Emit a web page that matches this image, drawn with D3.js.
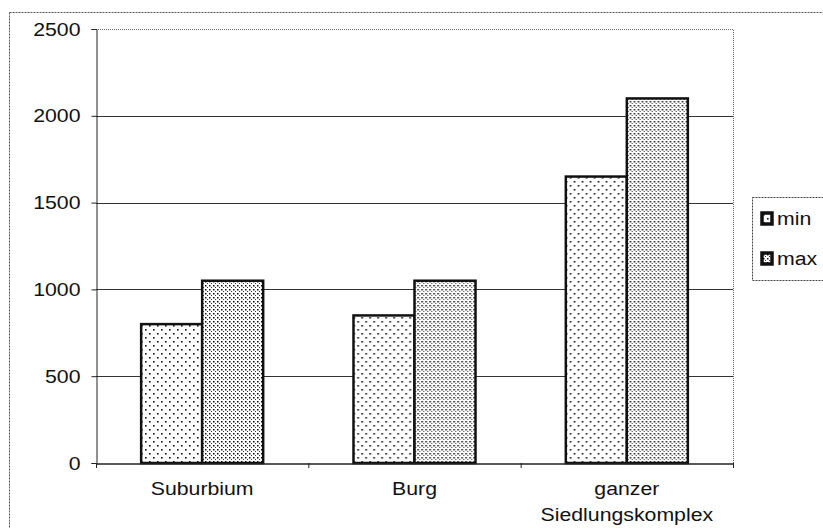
<!DOCTYPE html>
<html>
<head>
<meta charset="utf-8">
<script src="https://cdn.jsdelivr.net/npm/d3@7"></script>
<style>
  body { margin: 0; background: #fff; }
  text { font-family: "Liberation Sans", Arial, sans-serif; fill: #111; }
</style>
</head>
<body>
<svg id="chart" width="823" height="528"></svg>
<script>
// chart values
const categories = ["Suburbium", "Burg", "ganzer Siedlungskomplex"];
const seriesNames = ["min", "max"];
const minValues = [800, 850, 1650];
const maxValues = [1050, 1050, 2100];
const yTicks = [0, 500, 1000, 1500, 2000, 2500];

const svg = d3.select("#chart");
const plot = { left: 96, top: 29, right: 733, bottom: 463 };
const stretch = 1.12; // scanned text is a bit wider than it is tall

// widen a text horizontally around its own x position
function widen(sel) {
  sel.each(function () {
    const t = d3.select(this);
    const x = +t.attr("x") || 0;
    const y = +t.attr("y") || 0;
    t.attr("x", 0).attr("y", 0)
      .attr("transform", `translate(${x},${y}) scale(${stretch},1)`);
  });
}

// dot patterns for the two series
const defs = svg.append("defs");
const pMin = defs.append("pattern").attr("id", "pat-min")
  .attr("patternUnits", "userSpaceOnUse").attr("width", 8).attr("height", 8);
pMin.append("rect").attr("width", 8).attr("height", 8).attr("fill", "#fff");
pMin.append("rect").attr("x", 1).attr("y", 1).attr("width", 1.6).attr("height", 1.6).attr("fill", "#111");
pMin.append("rect").attr("x", 5).attr("y", 5).attr("width", 1.6).attr("height", 1.6).attr("fill", "#111");

const pMax = defs.append("pattern").attr("id", "pat-max")
  .attr("patternUnits", "userSpaceOnUse").attr("width", 4).attr("height", 4);
pMax.append("rect").attr("width", 4).attr("height", 4).attr("fill", "#fff");
pMax.append("rect").attr("x", 1).attr("y", 1).attr("width", 1.5).attr("height", 1.5).attr("fill", "#111");
pMax.append("rect").attr("x", 3).attr("y", 3).attr("width", 1.2).attr("height", 1.2).attr("fill", "#333");

// outer frame
svg.append("rect").attr("x", 9.5).attr("y", 12.5).attr("width", 830).attr("height", 530)
  .attr("fill", "none").attr("stroke", "#555").attr("stroke-width", 1).attr("stroke-dasharray", "2,1");

const x0 = d3.scaleBand().domain(categories).range([plot.left, plot.right]).paddingInner(0).paddingOuter(0);
const x1 = d3.scaleBand().domain(seriesNames).range([0, x0.bandwidth()]).paddingInner(0).paddingOuter(0.74);
const y = d3.scaleLinear().domain([0, 2500]).range([plot.bottom, plot.top]);

// plot area border (top and right, dotted)
svg.append("path")
  .attr("d", `M${plot.left},${plot.top + 0.5}H${plot.right + 0.5}V${plot.bottom}`)
  .attr("fill", "none").attr("stroke", "#666").attr("stroke-dasharray", "1,1");

// gridlines
svg.append("g").selectAll("line").data(yTicks.filter(d => d > 0 && d < 2500)).join("line")
  .attr("x1", plot.left).attr("x2", plot.right)
  .attr("y1", d => Math.round(y(d)) + 0.5).attr("y2", d => Math.round(y(d)) + 0.5)
  .attr("stroke", "#333").attr("stroke-width", 1);

// y axis
const yAxis = svg.append("g").attr("transform", `translate(${plot.left + 0.5},0)`)
  .call(d3.axisLeft(y).tickValues(yTicks).tickSize(5).tickPadding(11).tickFormat(d3.format("d")));
yAxis.attr("font-family", null).attr("font-size", null);
yAxis.select(".domain").attr("stroke", "#222");
yAxis.selectAll(".tick line").attr("stroke", "#222");
yAxis.selectAll("text").attr("font-size", 19).attr("fill", "#111").call(widen);

// bars
const rows = categories.map((c, i) => ({ cat: c, vals: [minValues[i], maxValues[i]] }));
const groups = svg.append("g").selectAll("g").data(rows).join("g")
  .attr("transform", d => `translate(${x0(d.cat)},0)`);
groups.selectAll("rect").data(d => d.vals.map((v, j) => ({ name: seriesNames[j], v }))).join("rect")
  .attr("x", d => x1(d.name))
  .attr("y", d => y(d.v))
  .attr("width", x1.bandwidth())
  .attr("height", d => y(0) - y(d.v))
  .attr("fill", d => `url(#pat-${d.name})`)
  .attr("stroke", "#111").attr("stroke-width", 2.5);

// x axis
const xAxis = svg.append("g").attr("transform", `translate(0,${plot.bottom + 0.5})`)
  .call(d3.axisBottom(x0).tickSize(0).tickFormat(""));
xAxis.select(".domain").attr("stroke", "#222").attr("stroke-width", 1.5);
const xTickPos = [plot.left, plot.left + x0.step(), plot.left + 2 * x0.step(), plot.right];
svg.append("g").selectAll("line").data(xTickPos).join("line")
  .attr("x1", d => d + 0.5).attr("x2", d => d + 0.5)
  .attr("y1", plot.bottom).attr("y2", plot.bottom + 5).attr("stroke", "#222");

// category labels (long one wraps onto two lines)
const labelLines = { "ganzer Siedlungskomplex": ["ganzer", "Siedlungskomplex"] };
const lineData = categories.flatMap(c => (labelLines[c] || [c]).map((l, i) => ({ c, l, i })));
svg.append("g").selectAll("text").data(lineData).join("text")
  .attr("x", d => x0(d.c) + x0.bandwidth() / 2)
  .attr("y", d => plot.bottom + 32 + d.i * 26)
  .attr("text-anchor", "middle").attr("font-size", 19)
  .text(d => d.l)
  .call(widen);

// legend
const leg = svg.append("g");
leg.append("rect").attr("x", 752.5).attr("y", 197.5).attr("width", 90).attr("height", 83)
  .attr("fill", "#fff").attr("stroke", "#444").attr("stroke-dasharray", "2,1");
const legItems = leg.selectAll("g").data(seriesNames).join("g")
  .attr("transform", (d, i) => `translate(762,${213 + i * 40})`);
legItems.append("rect").attr("width", 10).attr("height", 11)
  .attr("fill", d => `url(#pat-${d})`).attr("stroke", "#111").attr("stroke-width", 3.5);
legItems.append("text").attr("x", 15).attr("y", 12).attr("font-size", 19).text(d => d).call(widen);
</script>
</body>
</html>
